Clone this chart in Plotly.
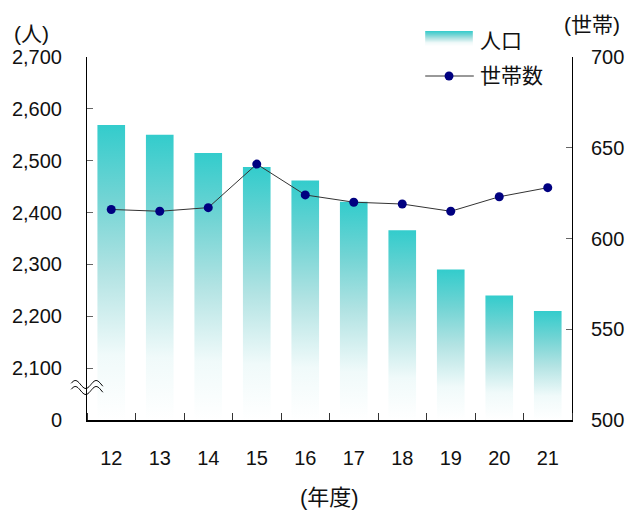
import math
import plotly.graph_objects as go

years = ["12", "13", "14", "15", "16", "17", "18", "19", "20", "21"]
population = [2569, 2550, 2515, 2488, 2462, 2421, 2366, 2290, 2240, 2210]
households = [616, 615, 617, 641, 624, 620, 619, 615, 623, 628]
left_tickvals = [2000, 2100, 2200, 2300, 2400, 2500, 2600, 2700]
left_ticktext = ["0", "2,100", "2,200", "2,300", "2,400", "2,500", "2,600", "2,700"]
right_tickvals = [500, 550, 600, 650, 700]

W, H = 636, 510
ML, MR, MT, MB = 87, 60, 57, 90
PW, PH = W - ML - MR, H - MT - MB

FONT = "Liberation Sans, Noto Sans CJK JP, sans-serif"
TEAL = "#33CCCC"
BAR_W = 0.57
BASE = 2000
GRAD = [[0, "#FFFFFF"], [0.22, "#F0FAFA"], [0.5, "#B2E3E3"], [0.75, "#72D4D4"], [1, TEAL]]

fig = go.Figure()

for i, v in enumerate(population):
    fig.add_trace(go.Scatter(
        x=[i - BAR_W / 2, i + BAR_W / 2, i + BAR_W / 2, i - BAR_W / 2, i - BAR_W / 2],
        y=[BASE, BASE, v, v, BASE],
        mode="lines", fill="toself",
        line=dict(width=0, color="rgba(0,0,0,0)"),
        fillgradient=dict(type="vertical", colorscale=GRAD),
        name="人口", showlegend=False,
        hoverinfo="skip", xaxis="x", yaxis="y",
    ))

fig.add_trace(go.Scatter(
    x=list(range(len(years))), y=households,
    mode="lines+markers", name="世帯数", showlegend=False,
    line=dict(color="#333333", width=1),
    marker=dict(color="#000080", size=9),
    xaxis="x", yaxis="y2",
))


def px2paper(px, py):
    return (px - ML) / PW, (H - MB - py) / PH


def hex2rgb(h):
    h = h.lstrip("#")
    return tuple(int(h[k:k + 2], 16) for k in (0, 2, 4))


def grad_color(t):
    for (a, ca), (b, cb) in zip(GRAD[:-1], GRAD[1:]):
        if a <= t <= b:
            f = (t - a) / (b - a) if b > a else 0
            r1, g1, b1 = hex2rgb(ca)
            r2, g2, b2 = hex2rgb(cb)
            return "rgb(%d,%d,%d)" % (r1 + (r2 - r1) * f, g1 + (g2 - g1) * f, b1 + (b2 - b1) * f)
    return TEAL


shapes = []
# axis break marker (decoration)
for yc in (384.5, 390.5):
    pts = []
    for k in range(0, 33):
        px = 71 + k
        py = yc - 4 * math.sin(2 * math.pi * (px - 71) / 21.0 + 0.3)
        pts.append(px2paper(px, py))
    path = "M " + " L ".join(f"{a:.5f},{b:.5f}" for a, b in pts)
    shapes.append(dict(type="path", path=path, xref="paper", yref="paper",
                       line=dict(color="#000000", width=1)))

# legend: gradient patch for 人口
top, bot = 31, 46
n = bot - top
for k in range(n):
    t = 1 - (k + 0.5) / n
    x0, y0 = px2paper(428, top + k + 1)
    x1, y1 = px2paper(476, top + k)
    shapes.append(dict(type="rect", xref="paper", yref="paper", x0=x0, x1=x1, y0=y0, y1=y1,
                       fillcolor=grad_color(t), line=dict(width=0), layer="above"))
# legend: line + marker for 世帯数
lx0, ly = px2paper(428, 76)
lx1, _ = px2paper(477, 76)
shapes.append(dict(type="line", xref="paper", yref="paper", x0=lx0, x1=lx1, y0=ly, y1=ly,
                   line=dict(color="#333333", width=1), layer="above"))
cx0, cy0 = px2paper(447.5, 80.5)
cx1, cy1 = px2paper(456.5, 71.5)
shapes.append(dict(type="circle", xref="paper", yref="paper", x0=cx0, x1=cx1, y0=cy0, y1=cy1,
                   fillcolor="#000080", line=dict(width=0), layer="above"))


def label(text, px, py, anchor="left", size=21):
    x, y = px2paper(px, py)
    return dict(text=text, x=x, y=y, xref="paper", yref="paper", xanchor=anchor, yanchor="middle",
                showarrow=False, font=dict(size=size, family=FONT, color="#111"))


annotations = [
    label("(人)", 11, 33),
    label("(世帯)", 566, 24),
    label("(年度)", 331, 497, "center", 22),
    label("人口", 481, 40),
    label("世帯数", 481, 76),
]

fig.update_layout(
    width=W, height=H,
    margin=dict(l=ML, r=MR, t=MT, b=MB),
    paper_bgcolor="white", plot_bgcolor="white",
    font=dict(family=FONT, size=20, color="#111"),
    xaxis=dict(range=[-0.5, len(years) - 0.5], tickvals=list(range(len(years))), ticktext=years,
               ticks="", showgrid=False, zeroline=False, showline=True, linecolor="black", linewidth=2,
               ticklabelstandoff=19,
               minor=dict(tick0=0.5, dtick=1, ticks="inside", ticklen=7, tickcolor="#333", tickwidth=1, showgrid=False)),
    yaxis=dict(range=[2000, 2700], tickvals=left_tickvals, ticktext=left_ticktext,
               ticks="inside", ticklen=6, tickcolor="#666", showgrid=False, zeroline=False,
               showline=True, linecolor="black", linewidth=1, ticklabelstandoff=20),
    yaxis2=dict(range=[500, 700], tickvals=right_tickvals, overlaying="y", side="right",
                ticks="inside", ticklen=6, tickcolor="#666", showgrid=False, zeroline=False,
                showline=True, linecolor="black", linewidth=1, ticklabelstandoff=14),
    shapes=shapes, annotations=annotations,
    showlegend=False,
)

fig.write_html("out.html")
